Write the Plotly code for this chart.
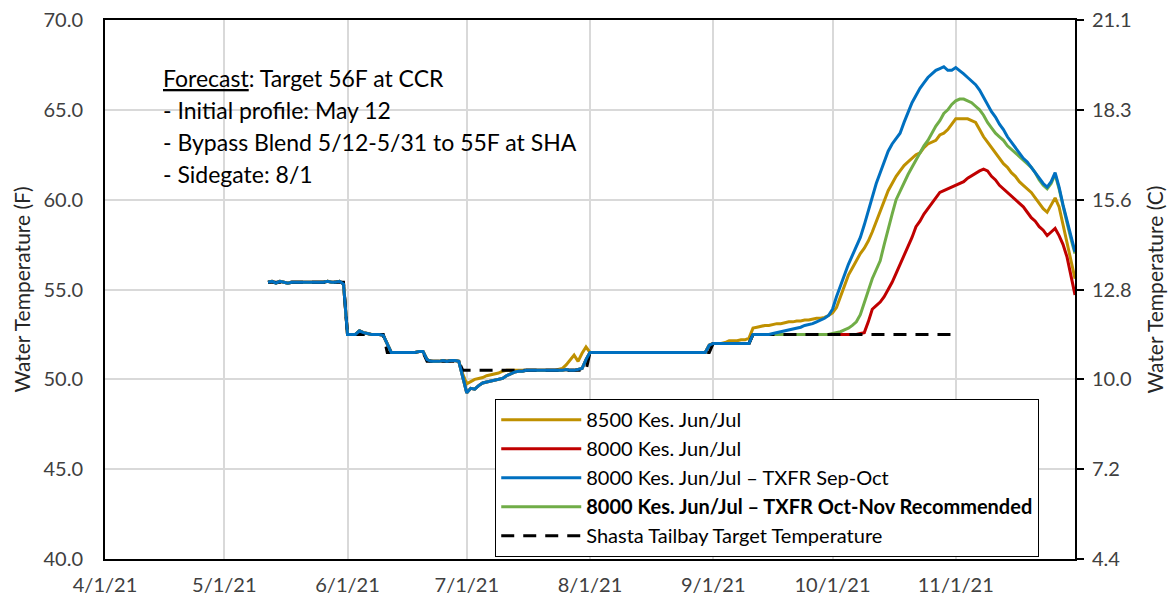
import pandas as pd
import plotly.graph_objects as go

# ---------------- data (daily values) ----------------
may_all = [55.4, 55.45, 55.35, 55.45, 55.4, 55.35, 55.4, 55.4, 55.4, 55.4,
           55.4, 55.4, 55.4, 55.4, 55.4, 55.45, 55.4, 55.4, 55.45, 55.3]          # 5/12-5/31
jun_all = [52.5, 52.5, 52.5, 52.7, 52.6, 52.55, 52.5, 52.5, 52.5, 52.45,
           52.0, 51.5, 51.5, 51.5, 51.5, 51.5, 51.5, 51.5, 51.55, 51.55,
           51.1, 51.0, 51.0, 51.0, 51.05, 51.0, 51.05, 51.05, 51.0]               # 6/1-6/29
jun30_blue = [50.1]
jun30_gold = [50.3]

jul_blue = [49.25, 49.5, 49.45, 49.65, 49.8, 49.85, 49.9, 49.95, 50.0, 50.05,
            50.2, 50.3, 50.4, 50.45, 50.45, 50.5, 50.5, 50.5, 50.5, 50.5,
            50.5, 50.5, 50.5, 50.5, 50.5, 50.55, 50.5, 50.5, 50.55, 50.6, 51.1]
jul_gold = [49.75, 49.9, 50.0, 50.05, 50.1, 50.2, 50.25, 50.3, 50.35, 50.45,
            50.5, 50.5, 50.5, 50.5, 50.5, 50.5, 50.5, 50.5, 50.5, 50.5,
            50.5, 50.5, 50.5, 50.55, 50.6, 50.8, 51.1, 51.35, 51.0, 51.45, 51.8]

aug_all = [51.5] * 30 + [51.9]

sep_blue = [52.0] * 10 + [52.5, 52.5, 52.5, 52.5, 52.5, 52.55, 52.6, 52.65, 52.7, 52.75,
                          52.8, 52.85, 52.9, 53.0, 53.05, 53.1, 53.2, 53.3, 53.4, 53.55]
sep_gold = [52.0, 52.0, 52.0, 52.05, 52.15, 52.15, 52.15, 52.2, 52.2, 52.3,
            52.85, 52.9, 52.95, 53.0, 53.0, 53.05, 53.1, 53.1, 53.15, 53.2,
            53.2, 53.25, 53.25, 53.3, 53.3, 53.35, 53.4, 53.4, 53.45, 53.55]
sep_flat = [52.0] * 10 + [52.5] * 20

oct_blue = [53.9, 54.6, 55.2, 55.9, 56.4, 56.9, 57.4, 57.9, 58.6, 59.4,
            60.2, 60.9, 61.5, 62.1, 62.7, 63.1, 63.4, 63.7, 64.3, 64.9,
            65.4, 65.8, 66.2, 66.5, 66.8, 67.0, 67.2, 67.3, 67.4, 67.2, 67.2]
nov_blue = [67.35, 67.2, 67.0, 66.8, 66.6, 66.4, 66.1, 65.7, 65.3, 64.9,
            64.6, 64.2, 63.9, 63.5, 63.2, 62.9, 62.6, 62.3, 62.1, 61.8,
            61.5, 61.2, 60.9, 60.7, 61.0, 61.5, 60.7, 59.7, 58.8, 57.9]
dec_blue = [57.1]

oct_gold = [53.7, 54.0, 54.6, 55.3, 55.8, 56.2, 56.6, 57.0, 57.3, 57.7,
            58.2, 58.8, 59.3, 59.9, 60.5, 60.9, 61.3, 61.6, 61.9, 62.1,
            62.3, 62.5, 62.6, 62.9, 63.1, 63.2, 63.3, 63.6, 63.7, 63.9, 64.2]
nov_gold = [64.5, 64.5, 64.5, 64.5, 64.4, 64.3, 63.9, 63.5, 63.2, 62.9,
            62.6, 62.3, 62.0, 61.8, 61.5, 61.3, 61.0, 60.8, 60.6, 60.4,
            60.1, 59.8, 59.5, 59.3, 59.7, 60.1, 59.6, 58.6, 57.6, 56.6]
dec_gold = [55.6]

oct_green = [52.55, 52.6, 52.65, 52.75, 52.85, 53.0, 53.2, 53.6, 54.3, 55.0,
             55.6, 56.1, 56.6, 57.5, 58.4, 59.2, 60.0, 60.5, 61.0, 61.4,
             61.8, 62.2, 62.6, 63.0, 63.3, 63.7, 64.1, 64.4, 64.8, 65.0, 65.3]
nov_green = [65.5, 65.6, 65.6, 65.5, 65.4, 65.2, 65.0, 64.7, 64.3, 64.0,
             63.7, 63.5, 63.3, 63.0, 62.8, 62.6, 62.4, 62.2, 62.0, 61.8,
             61.5, 61.1, 60.8, 60.6, 60.9, 61.4, 60.6, 59.6, 58.7, 57.8]
dec_green = [57.0]

oct_red = [52.5, 52.5, 52.5, 52.5, 52.5, 52.5, 52.5, 52.55, 52.6, 53.2,
           53.9, 54.1, 54.3, 54.6, 55.0, 55.4, 55.9, 56.4, 56.9, 57.3,
           57.9, 58.5, 58.8, 59.2, 59.5, 59.8, 60.1, 60.4, 60.5, 60.6, 60.7]
nov_red = [60.8, 60.9, 61.0, 61.2, 61.35, 61.5, 61.6, 61.7, 61.6, 61.3,
           61.1, 60.8, 60.6, 60.4, 60.2, 60.0, 59.8, 59.6, 59.3, 59.0,
           58.8, 58.5, 58.3, 58.0, 58.2, 58.4, 58.0, 57.5, 56.8, 55.8]
dec_red = [54.7]

target_dates = ["2021-05-12", "2021-05-31", "2021-06-01", "2021-06-10", "2021-06-11",
                "2021-06-20", "2021-06-21", "2021-06-29", "2021-06-30", "2021-07-31",
                "2021-08-01", "2021-08-31", "2021-09-01", "2021-09-10", "2021-09-11",
                "2021-10-31"]
target_vals = [55.4, 55.4, 52.5, 52.5, 51.5, 51.5, 51.0, 51.0, 50.5, 50.5,
               51.5, 51.5, 52.0, 52.0, 52.5, 52.5]

names = ["8500 Kes. Jun/Jul",
         "8000 Kes. Jun/Jul",
         "8000 Kes. Jun/Jul \u2013 TXFR Sep-Oct",
         "<b>8000 Kes. Jun/Jul \u2013 TXFR Oct-Nov Recommended</b>",
         "Shasta Tailbay Target Temperature"]
colors = ["#BF9000", "#C00000", "#0070C0", "#70AD47", "#000000"]

f_ticks = [40, 45, 50, 55, 60, 65, 70]
month_ticks = ["2021-04-01", "2021-05-01", "2021-06-01", "2021-07-01",
               "2021-08-01", "2021-09-01", "2021-10-01", "2021-11-01"]

notes = ["<u>Forecast</u>: Target 56F at CCR",
         "- Initial profile: May 12",
         "- Bypass Blend 5/12-5/31 to 55F at SHA",
         "- Sidegate: 8/1"]

# ---------------- assemble series ----------------
def series(*parts):
    vals = [v for p in parts for v in p]
    dates = pd.date_range("2021-05-12", periods=len(vals), freq="D")
    return dates, vals

def f_to_c(f):
    return (f - 32) / 1.8

gold = series(may_all, jun_all, jun30_gold, jul_gold, aug_all, sep_gold, oct_gold, nov_gold, dec_gold)
red = series(may_all, jun_all, jun30_blue, jul_blue, aug_all, sep_flat, oct_red, nov_red, dec_red)
blue = series(may_all, jun_all, jun30_blue, jul_blue, aug_all, sep_blue, oct_blue, nov_blue, dec_blue)
green = series(may_all, jun_all, jun30_blue, jul_blue, aug_all, sep_flat, oct_green, nov_green, dec_green)

FONT = "Lato"
fig = go.Figure()

def add_line(x, y, i, rank, dash=None, axis="y"):
    fig.add_trace(go.Scatter(
        x=x, y=y, mode="lines", name=names[i], legendrank=rank,
        legendgroup="g%d" % i, yaxis=axis,
        line=dict(color=colors[i], width=3, dash=dash)))

add_line(gold[0], gold[1], 0, 1)
add_line(red[0], red[1], 1, 2)
add_line(green[0], green[1], 3, 4)
add_line(pd.to_datetime(target_dates), target_vals, 4, 5, dash="13px,9px")
# blue drawn on the Celsius axis (same scale), so it sits on top and the right axis is shown
add_line(blue[0], [f_to_c(v) for v in blue[1]], 2, 3, axis="y2")

c_ticks = [f_to_c(f) for f in f_ticks]

fig.update_layout(
    width=1172, height=598,
    margin=dict(l=105, r=97, t=20, b=39, autoexpand=False),
    paper_bgcolor="white", plot_bgcolor="white",
    font=dict(family=FONT, size=20, color="#404040"),
    showlegend=True,
    legend=dict(
        x=0.402, y=0.004, xanchor="left", yanchor="bottom",
        bgcolor="white", bordercolor="black", borderwidth=1.3,
        font=dict(family=FONT, size=20, color="black"),
        itemwidth=80, tracegroupgap=0, entrywidth=470, entrywidthmode="pixels",
    ),
    xaxis=dict(
        type="date", range=["2021-04-01", "2021-12-01"],
        tickvals=month_ticks, tickformat="%-m/%-d/%y",
        showgrid=True, gridcolor="#D9D9D9", gridwidth=1.5,
        showline=True, linecolor="black", linewidth=2, mirror=True,
        ticks="", ticklabelstandoff=7, zeroline=False, automargin=False,
    ),
    yaxis=dict(
        range=[40, 70], tickvals=f_ticks, tickformat=".1f",
        showgrid=True, gridcolor="#D9D9D9", gridwidth=1.5,
        showline=True, linecolor="black", linewidth=2, mirror=True,
        ticks="", ticklabelstandoff=16, zeroline=False, automargin=False,
        title=dict(text="Water Temperature (F)", standoff=7,
                   font=dict(family=FONT, size=21, color="#262626")),
    ),
    yaxis2=dict(
        overlaying="y", side="right", anchor="x",
        range=[c_ticks[0], c_ticks[-1]], tickvals=c_ticks,
        ticktext=["%.1f" % c for c in c_ticks],
        showgrid=False, zeroline=False, automargin=False,
        showline=True, linecolor="black", linewidth=2,
        ticks="outside", ticklen=7, tickwidth=2, tickcolor="black",
        ticklabelstandoff=4,
        title=dict(text="Water Temperature (C)", standoff=18,
                   font=dict(family=FONT, size=21, color="#262626")),
    ),
)

for k, t in enumerate(notes):
    fig.add_annotation(text=t, xref="paper", yref="paper",
                       x=0.058, y=(559 - 78 - 32 * k) / 539,
                       xanchor="left", yanchor="middle", showarrow=False,
                       font=dict(family=FONT, size=23, color="black"))

fig.write_html("out.html", config={"displayModeBar": False},
               post_script="document.body.style.margin='0';document.body.style.overflow='hidden';")
